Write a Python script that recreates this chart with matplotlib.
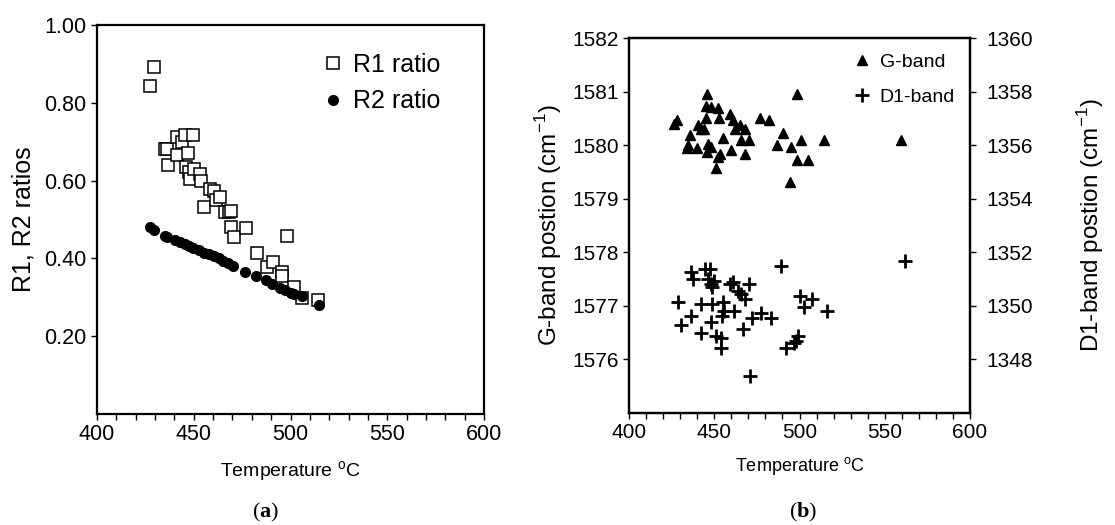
import numpy as np
import matplotlib
matplotlib.use("Agg")
import matplotlib.pyplot as plt
from matplotlib.ticker import MultipleLocator, FormatStrFormatter

plt.rcParams["font.family"] = ["Liberation Sans", "DejaVu Sans"]
plt.rcParams["mathtext.fontset"] = "custom"
plt.rcParams["mathtext.rm"] = "Liberation Sans"
plt.rcParams["mathtext.bf"] = "Liberation Serif:bold"

# (a) R1 / R2 ratios vs temperature
r1_temp = [427.6, 429.3, 435.3, 436.2, 436.7, 441.4, 441.4, 444.0, 445.7, 447.0,
           449.7, 446.2, 447.4, 448.0, 450.0, 453.4, 454.0, 455.2, 458.3, 460.3,
           461.7, 463.4, 465.9, 468.0, 469.3, 469.0, 471.0, 477.2, 482.8, 487.6,
           491.0, 495.7, 495.7, 498.3, 501.7, 506.0, 514.1]
r1_ratio = [0.843, 0.893, 0.680, 0.680, 0.641, 0.712, 0.667, 0.699, 0.718, 0.671,
            0.716, 0.635, 0.622, 0.604, 0.630, 0.617, 0.600, 0.531, 0.579, 0.574,
            0.549, 0.559, 0.518, 0.518, 0.521, 0.480, 0.454, 0.477, 0.415, 0.377,
            0.392, 0.366, 0.355, 0.457, 0.327, 0.297, 0.293]

r2_temp = [427.6, 429.3, 435.0, 436.2, 440.5, 443.1, 445.3, 447.4, 449.7, 452.6,
           455.2, 457.8, 460.3, 462.9, 465.2, 467.8, 470.3, 476.7, 482.4, 487.1,
           490.5, 494.8, 497.4, 500.0, 501.7, 506.0, 514.7]
r2_ratio = [0.480, 0.473, 0.458, 0.456, 0.448, 0.441, 0.437, 0.431, 0.426, 0.421,
            0.415, 0.411, 0.405, 0.401, 0.394, 0.388, 0.381, 0.366, 0.355, 0.344,
            0.334, 0.325, 0.318, 0.312, 0.308, 0.304, 0.280]

# (b) G-band and D1-band positions vs temperature
g_temp = [427.9, 426.5, 435.7, 434.7, 434.3, 440.0, 440.7, 442.2, 444.2, 446.0,
          444.9, 448.3, 452.2, 445.4, 446.4, 446.0, 448.3, 452.7, 455.1, 452.3,
          453.2, 451.3, 459.1, 461.1, 462.0, 464.9, 468.2, 459.7, 465.9, 470.4,
          467.8, 476.6, 482.1, 486.9, 490.2, 495.1, 498.4, 500.6, 498.4, 505.2,
          494.7, 514.2, 559.8]
g_pos = [1580.47, 1580.39, 1580.19, 1580.00, 1579.94, 1579.94, 1580.37, 1580.31,
         1580.31, 1580.95, 1580.73, 1580.72, 1580.69, 1580.50, 1580.03, 1579.88,
         1579.97, 1580.50, 1580.13, 1579.78, 1579.84, 1579.58, 1580.59, 1580.47,
         1580.31, 1580.37, 1580.31, 1579.91, 1580.09, 1580.09, 1579.84, 1580.50,
         1580.47, 1580.00, 1580.22, 1579.97, 1580.95, 1580.09, 1579.72, 1579.72,
         1579.31, 1580.09, 1580.09]

d1_temp = [428.5, 430.5, 436.6, 437.6, 436.1, 442.5, 442.1, 444.8, 447.4, 446.4,
           448.3, 449.9, 448.9, 448.7, 447.9, 451.3, 454.2, 454.2, 455.2, 455.8,
           454.6, 461.6, 459.1, 461.1, 464.0, 465.6, 468.3, 470.3, 466.9, 472.3,
           477.6, 483.4, 470.7, 488.9, 492.2, 496.5, 499.0, 498.0, 500.0, 502.6,
           507.2, 516.0, 561.8]
d1_pos = [1350.13, 1349.29, 1351.25, 1351.00, 1349.63, 1350.06, 1349.00, 1351.38,
          1351.38, 1351.00, 1350.81, 1350.94, 1350.69, 1350.06, 1349.38, 1348.88,
          1348.81, 1348.44, 1350.13, 1349.81, 1349.63, 1349.81, 1350.81, 1350.88,
          1350.56, 1350.44, 1350.25, 1350.81, 1349.13, 1349.56, 1349.75, 1349.56,
          1347.38, 1351.50, 1348.44, 1348.63, 1348.88, 1348.69, 1350.38, 1349.94,
          1350.25, 1349.79, 1351.69]

xlabel = r"Temperature $^{\mathrm{o}}$C"


def style_axes(ax, tick_size):
    for sp in ax.spines.values():
        sp.set_linewidth(1.6)
    ax.set_xlim(400, 600)
    ax.xaxis.set_major_locator(MultipleLocator(50))
    ax.xaxis.set_minor_locator(MultipleLocator(10))
    ax.tick_params(axis="both", which="both", direction="out", length=4,
                   width=1.0, labelsize=tick_size, top=False, right=False)


fig = plt.figure(figsize=(11.15, 5.25), dpi=100)

# ---- panel (a)
ax1 = fig.add_axes([97 / 1115, 111 / 525, 387 / 1115, 389 / 525])
ax1.plot(r1_temp, r1_ratio, "s", ms=8, mfc="white", mec="black", mew=1.1,
         label="R1 ratio")
ax1.plot(r2_temp, r2_ratio, "o", ms=7, color="black", label="R2 ratio")
style_axes(ax1, 15.5)
ax1.set_ylim(0, 1.0)
ax1.set_yticks([0.2, 0.4, 0.6, 0.8, 1.0])
ax1.yaxis.set_major_formatter(FormatStrFormatter("%.2f"))
ax1.set_ylabel("R1, R2 ratios", fontsize=18, labelpad=6)
ax1.set_xlabel(xlabel, fontsize=14, labelpad=10)
ax1.legend(loc="upper right", frameon=False, fontsize=18, handletextpad=0.2,
           borderaxespad=0, labelspacing=0.5, handlelength=1.2,
           bbox_to_anchor=(0.912, 0.954))

# ---- panel (b)
ax2 = fig.add_axes([629 / 1115, 112 / 525, 341 / 1115, 375 / 525])
ax3 = ax2.twinx()
g_line, = ax2.plot(g_temp, g_pos, "^", ms=7.5, color="black", label="G-band")
d_line, = ax3.plot(d1_temp, d1_pos, "+", ms=10, mew=2.0, color="black",
                   label="D1-band")
style_axes(ax2, 15)
ax2.set_ylim(1575, 1582)
ax2.set_yticks(np.arange(1576, 1583, 1))
ax2.set_ylabel("G-band postion (cm$^{\\mathrm{-1}}$)", fontsize=17.5, labelpad=6)
ax2.set_xlabel(xlabel, fontsize=13, labelpad=9)
ax3.set_ylim(1346, 1360)
ax3.set_yticks(np.arange(1348, 1361, 2))
ax3.tick_params(axis="y", direction="out", length=4, width=1.0, labelsize=15,
                pad=8)
for sp in ax3.spines.values():
    sp.set_linewidth(1.6)
ax3.set_ylabel("D1-band postion (cm$^{\\mathrm{-1}}$)", fontsize=17.5, labelpad=30)
ax3.legend([g_line, d_line], ["G-band", "D1-band"], loc="upper right",
           frameon=False, fontsize=14, handletextpad=0.4, labelspacing=0.9,
           handlelength=1.0, borderaxespad=0, bbox_to_anchor=(0.979, 0.981))

fig.text(0.238, 0.023, r"($\mathbf{a}$)", fontsize=16, ha="center", va="center",
         family="Liberation Serif")
fig.text(0.72, 0.023, r"($\mathbf{b}$)", fontsize=16, ha="center", va="center",
         family="Liberation Serif")

fig.savefig("out.png", dpi=100)
